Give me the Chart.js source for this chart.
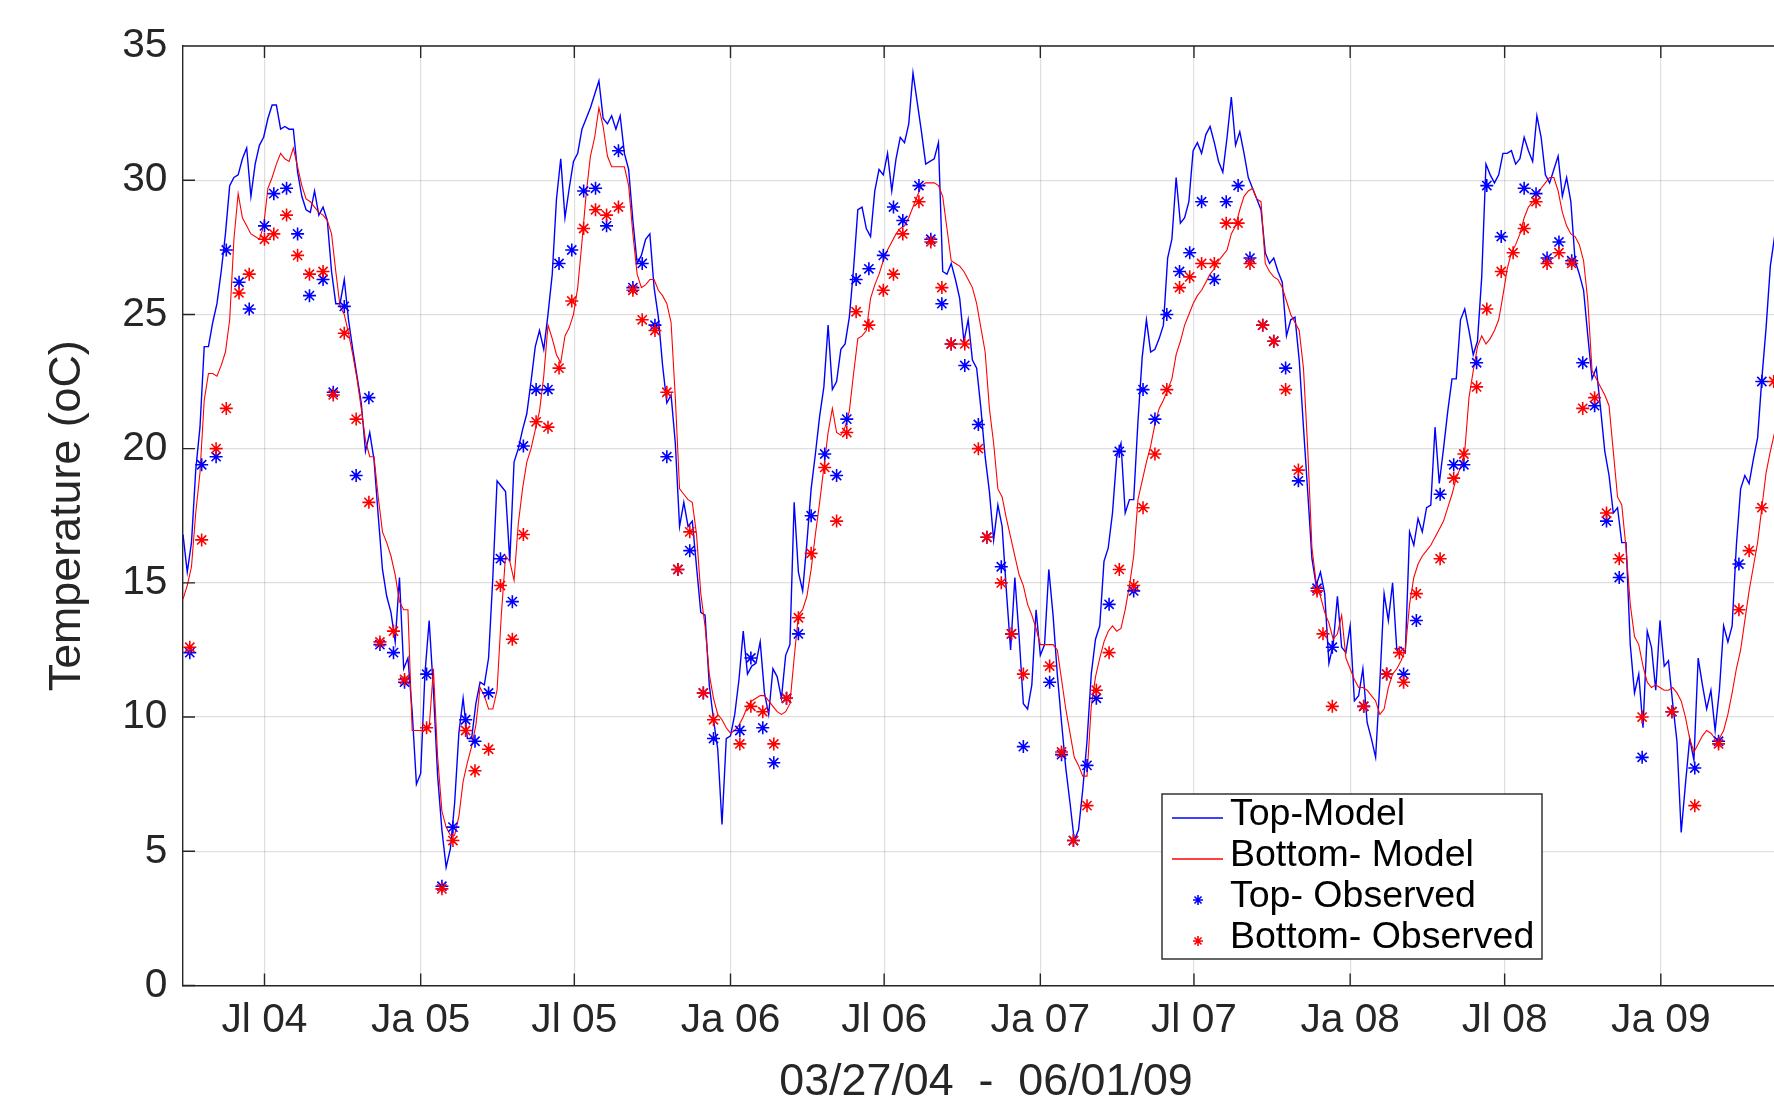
<!DOCTYPE html>
<html>
<head>
<meta charset="utf-8">
<title>Temperature</title>
<script src="https://cdn.jsdelivr.net/npm/chart.js@4.4.1/dist/chart.umd.min.js"></script>
<style>
  html, body { margin: 0; padding: 0; background: #fff; overflow: hidden; }
  #wrap { position: absolute; left: 0; top: 0; width: 1810px; height: 1110px; }
</style>
</head>
<body>
<div id="wrap"><canvas id="tempChart"></canvas></div>
<script>
// x values are days counted from 03/27/04
const startLabel = '03/27/04';
const endLabel = '06/01/09';
const endDay = 1892;

const tickDays = [96, 280, 461, 645, 826, 1010, 1191, 1375, 1557, 1741];
const tickLabels = ['Jl 04', 'Ja 05', 'Jl 05', 'Ja 06', 'Jl 06', 'Ja 07', 'Jl 07', 'Ja 08', 'Jl 08', 'Ja 09'];

// model output, one value every 5 days from day 0
const modelStepDays = 5;
const topModel = [
  16.8, 15.4, 16.5, 19.2, 20.8, 23.8, 23.8, 24.7, 25.4, 26.6,
  28.0, 29.8, 30.1, 30.2, 30.8, 31.2, 29.4, 30.6, 31.3, 31.6,
  32.3, 32.8, 32.8, 31.9, 32.0, 31.9, 31.9, 30.3, 29.4, 28.9,
  28.8, 29.6, 28.7, 29.0, 28.5, 26.6, 25.4, 25.4, 26.3, 24.8,
  23.7, 22.7, 21.7, 19.9, 20.6, 19.6, 17.5, 15.5, 14.5, 13.9,
  12.8, 15.2, 11.8, 12.2, 10.2, 7.5, 7.9, 11.6, 13.6, 11.0,
  7.8, 5.8, 4.4, 5.1, 6.8, 9.4, 10.7, 9.2, 9.2, 10.5,
  11.3, 11.2, 12.2, 15.2, 18.8, 18.6, 18.4, 15.8, 19.5, 20.0,
  20.7, 21.3, 22.5, 23.8, 24.4, 23.7, 25.0, 26.5, 29.3, 30.8,
  28.6, 29.7, 30.7, 31.0, 31.9, 32.3, 32.7, 33.2, 33.7, 32.3,
  32.1, 32.4, 31.9, 32.4, 31.0, 30.4, 28.5, 26.9, 27.2, 27.8,
  28.0, 26.0, 24.9, 23.1, 21.7, 22.0, 20.2, 17.1, 18.0, 17.1,
  17.3, 15.6, 13.9, 13.8, 11.2, 9.9, 8.8, 6.0, 9.2, 9.3,
  10.1, 11.4, 13.2, 11.6, 11.9, 12.0, 12.8, 10.9, 10.1, 11.8,
  11.5, 10.7, 12.3, 12.7, 18.0, 15.4, 14.7, 16.5, 18.5, 19.8,
  21.2, 22.3, 24.6, 22.2, 22.5, 23.7, 23.9, 24.9, 26.7, 28.9,
  29.0, 28.2, 27.9, 29.6, 30.4, 30.2, 31.0, 29.6, 30.8, 31.6,
  31.4, 32.1, 34.0, 32.9, 31.8, 30.6, 30.7, 30.8, 31.4, 26.6,
  26.5, 26.9, 26.3, 25.6, 24.0, 24.8, 23.3, 23.0, 21.5, 19.7,
  18.4, 16.6, 17.9, 17.1, 14.7, 12.5, 15.2, 13.0, 10.5, 10.3,
  11.2, 14.0, 12.3, 12.7, 15.5, 13.8, 11.6, 9.8, 8.1, 6.8,
  5.4, 5.8, 7.3, 9.1, 11.6, 12.9, 13.4, 15.8, 16.3, 17.6,
  19.7, 20.2, 17.6, 18.1, 18.1, 21.0, 23.4, 24.8, 23.6, 23.7,
  24.1, 24.6, 27.1, 27.8, 30.1, 28.4, 28.6, 29.2, 31.1, 31.4,
  31.0, 31.7, 32.0, 31.4, 30.7, 30.3, 31.6, 33.1, 31.3, 31.8,
  31.0, 30.1, 29.7, 29.3, 28.9, 27.3, 26.9, 27.1, 26.6, 26.2,
  24.2, 24.8, 24.9, 23.3, 20.8, 18.4, 15.9, 14.9, 15.4, 14.6,
  12.0, 12.7, 14.5, 12.6, 12.4, 13.4, 10.6, 10.8, 11.8, 9.8,
  9.2, 8.5, 11.3, 14.6, 13.6, 15.0, 12.5, 12.6, 12.4, 16.9,
  16.4, 17.4, 16.9, 17.8, 17.9, 20.8, 18.7, 20.0, 21.4, 22.6,
  22.6, 24.8, 25.2, 24.4, 23.5, 24.0, 26.4, 30.6, 30.2, 29.9,
  30.2, 31.0, 31.0, 31.1, 30.6, 30.8, 31.6, 31.1, 30.7, 32.4,
  31.6, 30.2, 29.9, 30.4, 30.9, 29.4, 30.1, 29.2, 27.0, 26.5,
  25.9, 24.2, 22.6, 23.0, 21.5, 19.9, 19.0, 17.6, 17.8, 16.5,
  16.5, 12.7, 10.9, 11.6, 9.6, 13.2, 12.6, 11.0, 13.6, 11.9,
  12.1, 10.5, 9.1, 5.7, 7.5, 9.2, 8.4, 12.2, 11.2, 10.3,
  11.0, 9.5, 11.0, 13.4, 12.8, 13.4, 16.4, 18.5, 19.0, 18.7,
  19.6, 20.4, 22.6, 24.5, 26.8, 27.9
];
const bottomModel = [
  14.4, 14.9, 15.6, 17.6, 19.1, 21.8, 22.8, 22.8, 22.7, 23.1,
  23.6, 24.8, 27.8, 29.5, 28.6, 28.3, 28.0, 27.9, 27.8, 28.3,
  29.7, 30.1, 30.6, 31.0, 30.8, 30.7, 31.2, 30.5, 29.8, 29.3,
  29.2, 29.0, 28.8, 28.7, 28.5, 28.0, 26.6, 25.3, 25.0, 24.3,
  23.5, 22.6, 21.5, 20.3, 19.7, 19.7, 18.2, 16.9, 16.5, 16.0,
  15.3, 14.3, 14.0, 14.0, 9.5, 9.5, 9.5, 9.5, 9.6, 11.8,
  8.5, 6.5, 5.9, 5.6, 5.6, 6.3, 7.6, 8.3, 8.9, 9.7,
  11.1, 10.8, 10.3, 10.3, 11.0, 13.8, 16.0, 15.8, 15.1, 17.2,
  18.5, 19.5, 20.0, 20.7, 21.4, 22.7, 24.6, 24.1, 23.5, 23.2,
  24.2, 24.5, 25.0, 26.0, 27.7, 29.5, 30.9, 31.6, 32.7, 32.0,
  30.9, 30.5, 30.5, 30.5, 30.5, 29.8, 28.0, 26.5, 26.0, 26.1,
  26.3, 26.3, 25.9, 25.7, 25.4, 24.7, 21.9, 18.5, 18.3, 18.1,
  18.0, 16.8, 14.6, 13.4, 11.6, 10.7, 10.1, 9.9, 9.6, 9.4,
  9.5, 9.7, 10.0, 10.4, 10.6, 10.7, 10.8, 10.8, 10.6, 10.4,
  10.2, 10.1, 10.2, 10.5, 12.2, 13.8, 14.0, 14.5, 15.5, 16.8,
  18.0, 19.3, 20.6, 21.5, 20.6, 20.5, 20.8, 21.4, 22.8, 24.1,
  24.2, 24.4, 25.6, 26.1, 26.5, 27.0, 27.4, 27.7, 28.0, 28.2,
  28.3, 28.6, 29.0, 29.4, 29.8, 29.9, 29.9, 29.9, 29.8, 29.4,
  28.2, 27.0, 26.9, 26.8, 26.6, 26.3, 26.0, 25.4, 24.5, 23.6,
  21.5, 20.2, 18.5, 18.2, 17.4, 16.7, 16.0, 15.3, 14.9, 14.2,
  13.8, 13.3, 12.7, 12.7, 12.7, 12.7, 12.5, 11.4, 10.3, 9.4,
  8.5, 8.2, 7.8, 7.8, 10.4, 11.5, 12.2, 12.8, 13.2, 13.4,
  13.2, 13.3, 14.0, 14.9, 16.0, 18.1, 18.8, 19.5, 20.1, 20.9,
  21.5, 21.8, 22.2, 22.6, 23.5, 24.0, 24.6, 25.0, 25.4, 25.7,
  25.9, 26.2, 26.5, 26.7, 27.0, 27.2, 27.4, 28.0, 28.3, 28.9,
  29.4, 29.6, 29.7, 29.3, 29.2, 26.9, 26.6, 26.4, 26.3, 26.0,
  25.5, 25.0, 24.7, 24.4, 23.0, 20.0, 16.3, 15.0, 14.5, 13.9,
  13.5, 12.9, 13.1, 13.8, 12.2, 11.8, 11.4, 11.1, 11.1, 11.0,
  10.8, 10.6, 10.1, 10.3, 11.1, 11.6, 11.8, 12.1, 12.5, 14.2,
  15.2, 15.7, 16.0, 16.2, 16.4, 16.7, 17.0, 17.3, 17.8, 18.3,
  18.9, 19.3, 19.9, 21.9, 22.9, 23.8, 24.2, 23.9, 24.1, 24.4,
  24.8, 25.7, 26.7, 27.3, 27.6, 28.0, 28.6, 29.0, 29.2, 29.4,
  29.7, 29.9, 30.1, 30.1, 29.6, 28.8, 28.3, 28.0, 27.9, 27.6,
  27.0, 25.5, 22.9, 22.6, 22.3, 22.0, 21.6, 19.9, 18.2, 17.9,
  16.3, 14.2, 13.0, 12.7, 11.9, 11.3, 11.1, 11.2, 11.1, 11.0,
  11.0, 11.1, 10.9, 10.6, 10.0, 9.2, 8.7, 9.0, 9.3, 9.5,
  9.4, 9.2, 9.2, 9.5, 10.1, 10.9, 11.8, 12.5, 13.6, 14.7,
  15.6, 16.5, 17.8, 19.1, 19.9, 20.6
];

// field samples (null = no visible marker)
const obsDays = [
  8, 22, 39, 51, 66, 78, 96, 107, 122, 135, 149, 165, 177, 190, 204, 219, 232, 248, 261, 287, 305, 318, 333,
  344, 360, 374, 388, 401, 416, 430, 443, 458, 472, 486, 499, 513, 530, 541, 556, 570, 583, 597, 613, 625, 656,
  669, 683, 696, 711, 725, 740, 756, 770, 782, 793, 808, 825, 837, 848, 867, 881, 894, 905, 921, 937, 947, 964, 976, 990,
  1021, 1035, 1049, 1065, 1076, 1091, 1103, 1120, 1131, 1145, 1159, 1174, 1186, 1200, 1215, 1229, 1243, 1257, 1272, 1285, 1299, 1314,
  1336, 1343, 1354, 1391, 1418, 1433, 1438, 1453, 1481, 1497, 1509, 1524, 1536, 1553, 1567, 1580, 1594, 1607, 1621, 1636, 1649,
  1663, 1677, 1692, 1719, 1754, 1781, 1809, 1833, 1845, 1860, 1874
];
const topObs = [
  12.4, 19.4, 19.7, 27.4, 26.2, 25.2, 28.3, 29.5, 29.7, 28.0, 25.7, 26.3, 22.1, 25.3, 19.0, 21.9, 12.7, 12.4, 11.3, 11.6, 3.7, 5.9, 9.9,
  9.1, 10.9, 15.9, 14.3, 20.1, 22.2, 22.2, 26.9, 27.4, 29.6, 29.7, 28.3, 31.1, 26.0, 26.9, 24.6, 19.7, 15.5, 16.2, 10.9, 9.2, 9.5,
  12.2, 9.6, 8.3, 10.7, 13.1, 17.5, 19.8, 19.0, 21.1, 26.3, 26.7, 27.2, 29.0, 28.5, 29.8, 27.8, 25.4, 23.9, 23.1, 20.9, 16.7, 15.6, 13.1, 8.9,
  11.3, 8.6, 5.4, 8.2, 10.7, 14.2, 19.9, 14.7, 22.2, 21.1, 25.0, 26.6, 27.3, 29.2, 26.3, 29.2, 29.8, 27.1, 24.6, 24.0, 23.0, 18.8,
  14.8, null, 12.6, 10.4, 11.6, null, 11.6, 13.6, 18.3, 19.4, 19.4, 23.2, 29.8, 27.9, null, 29.7, 29.5, 27.1, 27.7, 27.0, 23.2,
  21.6, 17.3, 15.2, 8.5, 10.2, 8.1, 9.1, 15.7, null, 22.5, null
];
const bottomObs = [
  12.6, 16.6, 20.0, 21.5, 25.8, 26.5, 27.8, 28.0, 28.7, 27.2, 26.5, 26.6, 22.0, 24.3, 21.1, 18.0, 12.8, 13.2, 11.4, 9.6, 3.6, 5.4, 9.5,
  8.0, 8.8, 14.9, 12.9, 16.8, 21.0, 20.8, 23.0, 25.5, 28.2, 28.9, 28.7, 29.0, 25.9, 24.8, 24.4, 22.1, 15.5, 16.9, 10.9, 9.9, 9.0,
  10.4, 10.2, 9.0, 10.7, 13.7, 16.1, 19.3, 17.3, 20.6, 25.1, 24.6, 25.9, 26.5, 28.0, 29.2, 27.7, 26.0, 23.9, 23.9, 20.0, 16.7, 15.0, 13.1, 11.6,
  11.9, 8.7, 5.4, 6.7, 11.0, 12.4, 15.5, 14.9, 17.8, 19.8, 22.2, 26.0, 26.4, 26.9, 26.9, 28.4, 28.4, 26.9, 24.6, 24.0, 22.2, 19.2,
  14.7, 13.1, 10.4, 10.4, 11.6, 12.4, 11.3, 14.6, 15.9, 18.9, 19.8, 22.3, 25.2, 26.6, 27.3, 28.2, 29.2, 26.9, 27.3, 26.9, 21.5,
  21.9, 17.6, 15.9, 10.0, 10.2, 6.7, 9.0, 14.0, 16.2, 17.8, 22.5
];

const axisColor = '#262626';
const gridColor = 'rgba(38, 38, 38, 0.15)';
const fontFamily = "'Liberation Sans', Arial, Helvetica, sans-serif";

function modelPoints(values) {
  return values.map((v, i) => ({ x: i * modelStepDays, y: v }));
}
function obsPoints(values) {
  return obsDays.map((d, i) => ({ x: d, y: values[i] })).filter(p => p.y !== null);
}

// MATLAB style box: top edge plus inward tick marks
const boxTicks = {
  id: 'boxTicks',
  afterDatasetsDraw(chart) {
    const { ctx, chartArea: a, scales: { x, y } } = chart;
    const len = 12;
    ctx.save();
    ctx.strokeStyle = axisColor;
    ctx.lineWidth = 1.4;
    ctx.beginPath();
    ctx.moveTo(a.left, a.top);
    ctx.lineTo(a.right, a.top);
    tickDays.forEach(d => {
      const px = x.getPixelForValue(d);
      ctx.moveTo(px, a.bottom);
      ctx.lineTo(px, a.bottom - len);
      ctx.moveTo(px, a.top);
      ctx.lineTo(px, a.top + len);
    });
    y.ticks.forEach(t => {
      const py = y.getPixelForValue(t.value);
      ctx.moveTo(a.left, py);
      ctx.lineTo(a.left + len, py);
    });
    ctx.stroke();
    ctx.restore();
  }
};

// legend box drawn inside the plot, lower right
const boxLegend = {
  id: 'boxLegend',
  afterDraw(chart) {
    const { ctx, chartArea: a } = chart;
    const left = a.left + 979, top = a.top + 748, w = 380, h = 165;
    ctx.save();
    ctx.fillStyle = '#fff';
    ctx.fillRect(left, top, w, h);
    ctx.strokeStyle = axisColor;
    ctx.lineWidth = 1.4;
    ctx.strokeRect(left, top, w, h);
    ctx.font = '37.5px ' + fontFamily;
    ctx.textBaseline = 'middle';
    ctx.textAlign = 'left';
    chart.data.datasets.forEach((ds, i) => {
      const cy = top + 21 + i * 41;
      if (ds.showLine) {
        ctx.strokeStyle = ds.borderColor;
        ctx.lineWidth = 1.6;
        ctx.beginPath();
        ctx.moveTo(left + 10, cy + 3);
        ctx.lineTo(left + 61, cy + 3);
        ctx.stroke();
      } else {
        ctx.strokeStyle = ds.pointBorderColor;
        ctx.fillStyle = ds.pointBorderColor;
        Chart.helpers.drawPoint(ctx, { pointStyle: 'star', radius: 5, borderWidth: 1.4, rotation: 0 }, left + 36, cy + 3);
      }
      ctx.fillStyle = '#000';
      ctx.fillText(ds.label, left + 68, cy);
    });
    ctx.restore();
  }
};

Chart.defaults.font.family = fontFamily;
Chart.defaults.color = axisColor;

new Chart(document.getElementById('tempChart'), {
  type: 'scatter',
  data: {
    datasets: [
      {
        label: 'Top-Model',
        data: modelPoints(topModel),
        showLine: true,
        borderColor: '#0000ff',
        borderWidth: 1.4,
        pointRadius: 0,
        order: 3
      },
      {
        label: 'Bottom- Model',
        data: modelPoints(bottomModel),
        showLine: true,
        borderColor: '#ff0000',
        borderWidth: 1.1,
        pointRadius: 0,
        order: 2
      },
      {
        label: 'Top- Observed',
        data: obsPoints(topObs),
        showLine: false,
        pointStyle: 'star',
        pointRadius: 6.5,
        pointBorderWidth: 1.6,
        pointBorderColor: '#0000ff',
        pointBackgroundColor: '#0000ff',
        order: 1
      },
      {
        label: 'Bottom- Observed',
        data: obsPoints(bottomObs),
        showLine: false,
        pointStyle: 'star',
        pointRadius: 6.5,
        pointBorderWidth: 1.6,
        pointBorderColor: '#ff0000',
        pointBackgroundColor: '#ff0000',
        order: 0
      }
    ]
  },
  options: {
    responsive: true,
    maintainAspectRatio: false,
    devicePixelRatio: 1,
    animation: false,
    layout: { padding: { left: 0, right: 21, top: 46, bottom: 0 } },
    plugins: {
      legend: { display: false },
      tooltip: { enabled: false }
    },
    scales: {
      x: {
        type: 'linear',
        min: 0,
        max: endDay,
        afterFit: scale => { scale.height = 124.5; },
        afterBuildTicks: scale => { scale.ticks = tickDays.map(v => ({ value: v })); },
        ticks: {
          autoSkip: false,
          maxRotation: 0,
          padding: 11,
          color: axisColor,
          font: { size: 40.7 },
          callback: value => tickLabels[tickDays.indexOf(value)]
        },
        grid: { color: gridColor, lineWidth: 1.2, drawTicks: false },
        border: { display: true, color: axisColor, width: 1.4 },
        title: {
          display: true,
          text: startLabel + '  -  ' + endLabel,
          color: axisColor,
          font: { size: 44.8 },
          padding: { top: 0, bottom: 0 }
        }
      },
      y: {
        min: 0,
        max: 35,
        afterFit: scale => { scale.width = 183; },
        ticks: {
          stepSize: 5,
          padding: 15.5,
          color: axisColor,
          font: { size: 40.7 }
        },
        grid: { color: gridColor, lineWidth: 1.2, drawTicks: false },
        border: { display: true, color: axisColor, width: 1.4 },
        title: {
          display: true,
          text: 'Temperature (oC)',
          color: axisColor,
          font: { size: 44.8 },
          padding: { top: 41, bottom: 0 }
        }
      }
    }
  },
  plugins: [boxTicks, boxLegend]
});
</script>
</body>
</html>
